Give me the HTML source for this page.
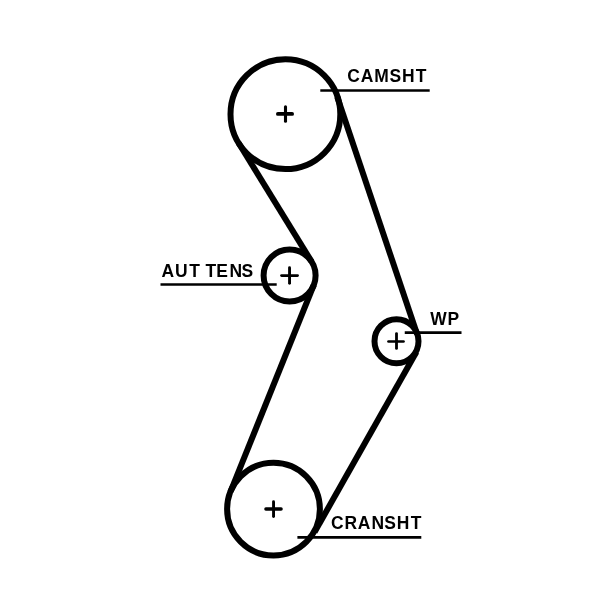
<!DOCTYPE html><html><head><meta charset="utf-8"><style>html,body{margin:0;padding:0;background:#fff;}svg{display:block}</style></head><body>
<svg width="600" height="600" viewBox="0 0 600 600">
<rect width="600" height="600" fill="#fff"/>
<g fill="none" stroke="#000" stroke-width="6">
<circle cx="285.4" cy="114.2" r="54.9"/>
<circle cx="289.6" cy="275.5" r="26.0"/>
<circle cx="396.5" cy="341.25" r="22.0"/>
<circle cx="273.5" cy="509.1" r="46.4"/>
<line x1="238.63" y1="142.95" x2="311.75" y2="261.88"/>
<line x1="313.71" y1="285.22" x2="230.46" y2="491.75"/>
<line x1="314.63" y1="531.95" x2="416.40" y2="352.08"/>
<line x1="417.10" y1="334.23" x2="337.18" y2="96.69"/>
</g>
<g stroke="#000" stroke-linecap="round" fill="none">
<line x1="277.85" y1="113.95" x2="292.15" y2="113.95" stroke-width="3.7"/>
<line x1="285.5" y1="106.85" x2="285.5" y2="121.25" stroke-width="3.1"/>
<line x1="281.55" y1="275.55" x2="297.55" y2="275.55" stroke-width="2.8"/>
<line x1="289.55" y1="267.65" x2="289.55" y2="283.35" stroke-width="2.9"/>
<line x1="388.50" y1="341.5" x2="403.50" y2="341.5" stroke-width="2.7"/>
<line x1="396.5" y1="333.60" x2="396.5" y2="348.40" stroke-width="2.8"/>
<line x1="265.90" y1="509.05" x2="281.10" y2="509.05" stroke-width="3.4"/>
<line x1="273.55" y1="501.65" x2="273.55" y2="516.45" stroke-width="2.9"/>
</g>
<g stroke="#000" fill="none">
<line x1="320.3" y1="90.5" x2="429.7" y2="90.5" stroke-width="2.6"/>
<line x1="160.5" y1="284.45" x2="276.7" y2="284.45" stroke-width="2.6"/>
<line x1="404.75" y1="332.6" x2="461.5" y2="332.6" stroke-width="2.6"/>
<line x1="297.4" y1="537.4" x2="421.3" y2="537.4" stroke-width="2.7"/>
</g>
<g font-family="&quot;Liberation Sans&quot;, sans-serif" font-weight="bold" fill="#000" style="will-change:transform">
<text x="347.33 360.76 374.18 389.62 401.9 415.82" y="82" font-size="17.45"  xml:space="preserve">CAMSHT</text>
<text x="161.51 174.91 189.37 198.37 205.62 216.31 229.4 241.57" y="277" font-size="17.45"  xml:space="preserve">AUT TENS</text>
<text x="430.19 447.55" y="325" font-size="17.45"  xml:space="preserve">WP</text>
<text x="330.93 344.39 357.66 371.6 384.37 396.85 410.87" y="529" font-size="17.45"  xml:space="preserve">CRANSHT</text>
</g>
</svg></body></html>
